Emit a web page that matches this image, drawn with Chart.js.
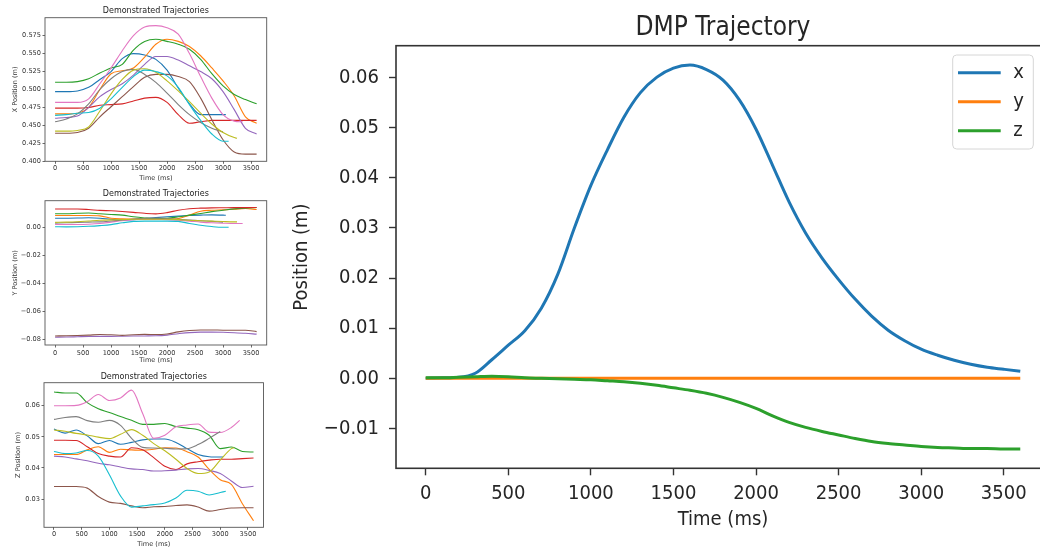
<!DOCTYPE html>
<html><head><meta charset="utf-8">
<script src="https://cdn.jsdelivr.net/npm/chart.js@4.4.0/dist/chart.umd.min.js"></script>
<style>
html,body{margin:0;padding:0;background:#fff;width:1040px;height:548px;overflow:hidden;position:relative}
canvas{position:absolute;display:block}
</style></head><body>
<canvas id="cX" width="280" height="186" style="left:0;top:0;width:280px;height:186px"></canvas>
<canvas id="cY" width="280" height="186" style="left:0;top:186px;width:280px;height:186px"></canvas>
<canvas id="cZ" width="280" height="176" style="left:0;top:372px;width:280px;height:176px"></canvas>
<canvas id="cM" width="790" height="548" style="left:280px;top:0;width:790px;height:548px"></canvas>
<script>
// ---------------- data ----------------
const palette = ['#1f77b4','#ff7f0e','#2ca02c','#d62728','#9467bd','#8c564b','#e377c2','#7f7f7f','#bcbd22','#17becf'];
const demoTime = [0,200,400,600,800,1000,1200,1400,1600,1800,2000,2200,2400,2600,2800,3000,3200,3400,3600];
const demoEnds = [3050,3600,3600,3600,3600,3600,3350,3000,3250,3100];
const timeTicks = [0,500,1000,1500,2000,2500,3000,3500];

const demoX = [
 [0.497,0.497,0.498,0.503,0.514,0.525,0.543,0.550,0.548,0.542,0.527,0.502,0.480,0.465,0.465,0.465,0.465],
 [0.466,0.466,0.467,0.475,0.500,0.522,0.526,0.530,0.545,0.563,0.570,0.567,0.560,0.547,0.530,0.512,0.491,0.462,0.453],
 [0.510,0.510,0.511,0.515,0.523,0.530,0.535,0.555,0.567,0.570,0.567,0.563,0.556,0.542,0.522,0.505,0.493,0.486,0.480],
 [0.474,0.474,0.474,0.475,0.478,0.479,0.480,0.484,0.488,0.489,0.482,0.465,0.453,0.455,0.457,0.457,0.457,0.457,0.457],
 [0.460,0.461,0.463,0.475,0.490,0.500,0.508,0.520,0.535,0.546,0.546,0.541,0.533,0.525,0.515,0.497,0.472,0.446,0.438],
 [0.439,0.439,0.440,0.446,0.462,0.476,0.490,0.504,0.517,0.521,0.521,0.518,0.511,0.488,0.458,0.430,0.413,0.410,0.410],
 [0.482,0.482,0.482,0.487,0.508,0.530,0.554,0.575,0.587,0.589,0.586,0.577,0.550,0.518,0.488,0.465,0.456,0.455],
 [0.455,0.459,0.466,0.480,0.500,0.515,0.525,0.528,0.521,0.510,0.495,0.479,0.465,0.454,0.446,0.441],
 [0.442,0.442,0.443,0.448,0.470,0.494,0.514,0.527,0.529,0.524,0.512,0.498,0.483,0.467,0.452,0.440,0.433,0.432],
 [0.464,0.465,0.467,0.468,0.474,0.487,0.503,0.518,0.527,0.525,0.519,0.503,0.479,0.457,0.438,0.428,0.428]
];
const demoY = [
 [0.0068,0.0068,0.0069,0.0071,0.0068,0.0060,0.0055,0.0058,0.0065,0.0072,0.0078,0.0083,0.0087,0.0090,0.0092,0.0090,0.0089],
 [0.0087,0.0087,0.0087,0.0087,0.0085,0.0068,0.0063,0.0062,0.0062,0.0062,0.0062,0.0065,0.0090,0.0118,0.0125,0.0128,0.0132,0.0138,0.0130],
 [0.0100,0.0100,0.0103,0.0105,0.0100,0.0095,0.0090,0.0078,0.0070,0.0065,0.0068,0.0078,0.0090,0.0102,0.0115,0.0125,0.0135,0.0140,0.0145],
 [0.0134,0.0134,0.0134,0.0130,0.0124,0.0121,0.0116,0.0110,0.0103,0.0099,0.0108,0.0125,0.0136,0.0140,0.0142,0.0143,0.0144,0.0144,0.0145],
 [-0.0785,-0.0784,-0.0782,-0.0780,-0.0779,-0.0779,-0.0778,-0.0777,-0.0776,-0.0775,-0.0770,-0.0760,-0.0752,-0.0749,-0.0749,-0.0750,-0.0753,-0.0757,-0.0763],
 [-0.0776,-0.0775,-0.0773,-0.0770,-0.0766,-0.0768,-0.0772,-0.0767,-0.0765,-0.0766,-0.0762,-0.0747,-0.0737,-0.0733,-0.0733,-0.0735,-0.0735,-0.0735,-0.0745],
 [0.0023,0.0023,0.0023,0.0025,0.0030,0.0040,0.0050,0.0057,0.0060,0.0060,0.0058,0.0053,0.0047,0.0040,0.0035,0.0032,0.0030,0.0030],
 [0.0033,0.0035,0.0038,0.0040,0.0042,0.0048,0.0055,0.0062,0.0068,0.0070,0.0066,0.0060,0.0055,0.0050,0.0045,0.0040],
 [0.0038,0.0040,0.0043,0.0048,0.0053,0.0056,0.0058,0.0060,0.0060,0.0060,0.0060,0.0058,0.0053,0.0050,0.0047,0.0044,0.0042,0.0042],
 [0.0007,0.0006,0.0007,0.0010,0.0015,0.0022,0.0035,0.0045,0.0047,0.0047,0.0047,0.0045,0.0030,0.0017,0.0008,0.0003,0.0003]
];
const demoZ = [
 [0.0525,0.0512,0.0522,0.0503,0.0478,0.0488,0.0476,0.0482,0.0490,0.0493,0.0493,0.0482,0.0462,0.0443,0.0436,0.0435,0.0435],
 [0.0443,0.0443,0.0443,0.0458,0.0468,0.0450,0.0460,0.0458,0.0457,0.0460,0.0465,0.0464,0.0452,0.0435,0.0395,0.0362,0.0347,0.0285,0.0230],
 [0.0644,0.0641,0.0641,0.0610,0.0590,0.0578,0.0565,0.0553,0.0540,0.0540,0.0543,0.0533,0.0528,0.0523,0.0505,0.0462,0.0467,0.0453,0.0451],
 [0.0489,0.0489,0.0488,0.0468,0.0446,0.0438,0.0435,0.0465,0.0458,0.0433,0.0405,0.0395,0.0413,0.0420,0.0425,0.0428,0.0428,0.0430,0.0432],
 [0.0438,0.0435,0.0429,0.0423,0.0415,0.0410,0.0403,0.0397,0.0395,0.0390,0.0391,0.0393,0.0397,0.0398,0.0392,0.0382,0.0358,0.0337,0.0341],
 [0.0340,0.0340,0.0340,0.0335,0.0308,0.0290,0.0286,0.0278,0.0272,0.0275,0.0276,0.0279,0.0281,0.0274,0.0261,0.0266,0.0271,0.0272,0.0272],
 [0.0600,0.0600,0.0601,0.0613,0.0636,0.0617,0.0625,0.0650,0.0575,0.0495,0.0505,0.0532,0.0538,0.0541,0.0515,0.0514,0.0530,0.0553],
 [0.0556,0.0562,0.0565,0.0552,0.0547,0.0553,0.0537,0.0495,0.0466,0.0464,0.0463,0.0461,0.0462,0.0475,0.0495,0.0517],
 [0.0522,0.0518,0.0511,0.0506,0.0499,0.0494,0.0508,0.0523,0.0505,0.0478,0.0455,0.0428,0.0398,0.0382,0.0387,0.0425,0.0462,0.0465],
 [0.0453,0.0446,0.0448,0.0456,0.0438,0.0378,0.0310,0.0274,0.0278,0.0282,0.0287,0.0303,0.0328,0.0325,0.0313,0.0321,0.0325]
];
const ticksXPos = [0.400,0.425,0.450,0.475,0.500,0.525,0.550,0.575];
const ticksYPos = [-0.08,-0.06,-0.04,-0.02,0.00];
const ticksZPos = [0.03,0.04,0.05,0.06];

const dmpTime = [0,100,200,300,400,500,600,700,800,900,1000,1100,1200,1300,1400,1500,1600,1700,1800,1900,2000,2100,2200,2300,2400,2500,2600,2700,2800,2900,3000,3100,3200,3300,3400,3500,3600];
const dmpX = [0.0000,0.0001,0.0002,0.0010,0.0037,0.0066,0.0095,0.0140,0.0208,0.0300,0.0385,0.0456,0.0521,0.0570,0.0601,0.0619,0.0625,0.0616,0.0595,0.0555,0.0497,0.0425,0.0352,0.0290,0.0240,0.0197,0.0158,0.0124,0.0096,0.0075,0.0058,0.0046,0.0036,0.0028,0.0022,0.0018,0.0014];
const dmpY = [0,0,0,0,0,0,0,0,0,0,0,0,0,0,0,0,0,0,0,0,0,0,0,0,0,0,0,0,0,0,0,0,0,0,0,0,0];
const dmpZ = [0.0001,0.0001,0.0002,0.0003,0.0004,0.0003,0.0001,0.0000,-0.0001,-0.0002,-0.0003,-0.0005,-0.0007,-0.0010,-0.0014,-0.0019,-0.0024,-0.0030,-0.0038,-0.0048,-0.0060,-0.0075,-0.0088,-0.0098,-0.0106,-0.0113,-0.0120,-0.0126,-0.0130,-0.0133,-0.0136,-0.0138,-0.0139,-0.0140,-0.0140,-0.0141,-0.0141];
const dmpLabels = ['x','y','z'];
const dmpTicks = [-0.01,0.00,0.01,0.02,0.03,0.04,0.05,0.06];

// ---------------- helpers ----------------
const fam = "'DejaVu Sans', sans-serif";
const famC = "'DejaVu Sans Condensed', 'DejaVu Sans', sans-serif";
function demoPoints(vals, end) {
  const t = demoTime.filter(v => v < end).concat([end]);
  return vals.map((v, i) => ({x: t[i], y: v}));
}
function fmt(v, d) { return v.toFixed(d).replace('-', '\u2212'); }

const frame = {
  id: 'frame',
  afterDatasetsDraw(chart, args, o) {
    const {ctx, chartArea: a} = chart;
    ctx.save(); ctx.strokeStyle = o.color; ctx.lineWidth = o.width;
    ctx.strokeRect(a.left, a.top, a.right - a.left, a.bottom - a.top);
    ctx.restore();
  }
};
const axTitle = {
  id: 'axTitle',
  afterDraw(chart, args, o) {
    const {ctx, chartArea: a} = chart;
    ctx.save(); ctx.font = o.size + 'px ' + o.family; ctx.fillStyle = o.color;
    ctx.textAlign = 'center'; ctx.textBaseline = 'middle';
    ctx.fillText(o.text, (a.left + a.right) / 2, a.top - o.offset);
    ctx.restore();
  }
};
const inLegend = {
  id: 'inLegend',
  afterDraw(chart, args, o) {
    if (!o.show) return;
    const {ctx, chartArea: a} = chart;
    const w = o.w, h = o.h, x0 = a.right - o.right - w, y0 = a.top + o.top;
    ctx.save();
    ctx.fillStyle = 'rgba(255,255,255,0.8)'; ctx.strokeStyle = '#d6d6d6'; ctx.lineWidth = 1;
    ctx.beginPath(); ctx.roundRect(x0, y0, w, h, 4); ctx.fill(); ctx.stroke();
    ctx.font = o.size + 'px ' + o.family; ctx.textBaseline = 'middle'; ctx.textAlign = 'left';
    chart.data.datasets.forEach((ds, i) => {
      const y = y0 + o.first + i * o.step;
      ctx.strokeStyle = ds.borderColor; ctx.lineWidth = ds.borderWidth; ctx.lineCap = 'butt';
      ctx.beginPath(); ctx.moveTo(x0 + o.lx0, y); ctx.lineTo(x0 + o.lx1, y); ctx.stroke();
      ctx.fillStyle = '#262626'; ctx.fillText(ds.label, x0 + o.tx, y);
    });
    ctx.restore();
  }
};

function makeScales(o) {
  const tickFont = {family: o.family, size: o.fs};
  return {
    x: {
      type: 'linear', min: -180, max: 3780,
      afterBuildTicks: s => { s.ticks = timeTicks.map(v => ({value: v})); },
      afterFit: s => { s.height = o.xh; },
      ticks: {font: tickFont, color: o.tc, padding: o.xpad, maxRotation: 0, autoSkip: false, callback: v => String(v)},
      grid: {display: true, drawOnChartArea: false, drawTicks: true, tickLength: o.tl, tickColor: o.tickc, tickWidth: o.tw},
      border: {display: false},
      title: {display: true, text: 'Time (ms)', font: tickFont, color: o.tc, padding: {top: 0, bottom: o.xtpad}}
    },
    y: {
      type: 'linear', min: o.ymin, max: o.ymax,
      afterBuildTicks: s => { s.ticks = o.yticks.map(v => ({value: v})); },
      afterFit: s => { s.width = o.yw; },
      ticks: {font: tickFont, color: o.tc, padding: o.ypad, autoSkip: false, callback: v => fmt(v, o.ydec)},
      grid: {display: true, drawOnChartArea: false, drawTicks: true, tickLength: o.tl, tickColor: o.tickc, tickWidth: o.tw},
      border: {display: false},
      title: {display: true, text: o.ylabel, font: tickFont, color: o.tc, padding: {top: o.ytpad, bottom: 0}}
    }
  };
}

function demoChart(id, arrays, o) {
  const datasets = arrays.map((vals, i) => ({
    data: demoPoints(vals, demoEnds[i]),
    borderColor: palette[i], borderWidth: 1.1, pointRadius: 0,
    cubicInterpolationMode: 'monotone', fill: false, order: -i
  }));
  new Chart(document.getElementById(id), {
    type: 'line',
    data: {datasets},
    options: {
      responsive: false, animation: false, devicePixelRatio: 1, parsing: false,
      layout: {padding: {left: 0, top: o.top, right: o.right, bottom: 0}},
      scales: makeScales(Object.assign({family: fam, fs: 6.6, tc: '#333', tl: 2.5, tickc: '#444', tw: 0.8, ypad: 1.5}, o)),
      plugins: {
        legend: {display: false}, tooltip: {enabled: false},
        frame: {color: '#555', width: 0.9},
        axTitle: {text: 'Demonstrated Trajectories', size: 8, family: fam, color: '#222', offset: o.toff},
        inLegend: {show: false}
      }
    },
    plugins: [frame, axTitle, inLegend]
  });
}

demoChart('cX', demoX, {top: 17.7, right: 13.3, xh: 24.7, xpad: 0.6, xtpad: 3.7, yw: 45, ytpad: 11.7,
  ymin: 0.400, ymax: 0.600, yticks: ticksXPos, ydec: 3, ylabel: 'X Position (m)', toff: 6.7});
demoChart('cY', demoY, {top: 14.7, right: 13.3, xh: 27, xpad: 1.6, xtpad: 7.3, yw: 45, ytpad: 11.7,
  ymin: -0.0841, ymax: 0.01935, yticks: ticksYPos, ydec: 2, ylabel: 'Y Position (m)', toff: 6.7});
demoChart('cZ', demoZ, {top: 10.7, right: 16.5, xh: 20.7, xpad: 0.6, xtpad: 0, yw: 44, ytpad: 14.3,
  ymin: 0.0209, ymax: 0.0674, yticks: ticksZPos, ydec: 2, ylabel: 'Z Position (m)', toff: 6});

// main chart
const dmpSeries = [dmpX, dmpY, dmpZ];
new Chart(document.getElementById('cM'), {
  type: 'line',
  data: {
    datasets: dmpSeries.map((vals, i) => ({
      label: dmpLabels[i],
      data: vals.map((v, j) => ({x: dmpTime[j], y: v})),
      borderColor: palette[i], borderWidth: 3, pointRadius: 0,
      cubicInterpolationMode: 'monotone', fill: false, order: -i
    }))
  },
  options: {
    responsive: false, animation: false, devicePixelRatio: 1, parsing: false,
    layout: {padding: {left: 0, top: 45.7, right: 20, bottom: 0}},
    scales: makeScales({family: famC, fs: 20, tc: '#262626', tl: 7, tickc: '#333', tw: 1.4,
      xh: 79.7, xpad: 6.3, xtpad: 16.4, yw: 116, ypad: 10, ytpad: 9.8,
      ymin: -0.01796, ymax: 0.06637, yticks: dmpTicks, ydec: 2, ylabel: 'Position (m)'}),
    plugins: {
      legend: {display: false}, tooltip: {enabled: false},
      frame: {color: '#333', width: 1.6},
      axTitle: {text: 'DMP Trajectory', size: 26, family: famC, color: '#262626', offset: 17.2},
      inLegend: {show: true, right: 16.7, top: 9.3, w: 80.6, h: 94, first: 17.7, step: 29,
        lx0: 5.3, lx1: 48, tx: 60.5, size: 20, family: famC}
    }
  },
  plugins: [frame, axTitle, inLegend]
});
</script>
</body></html>
